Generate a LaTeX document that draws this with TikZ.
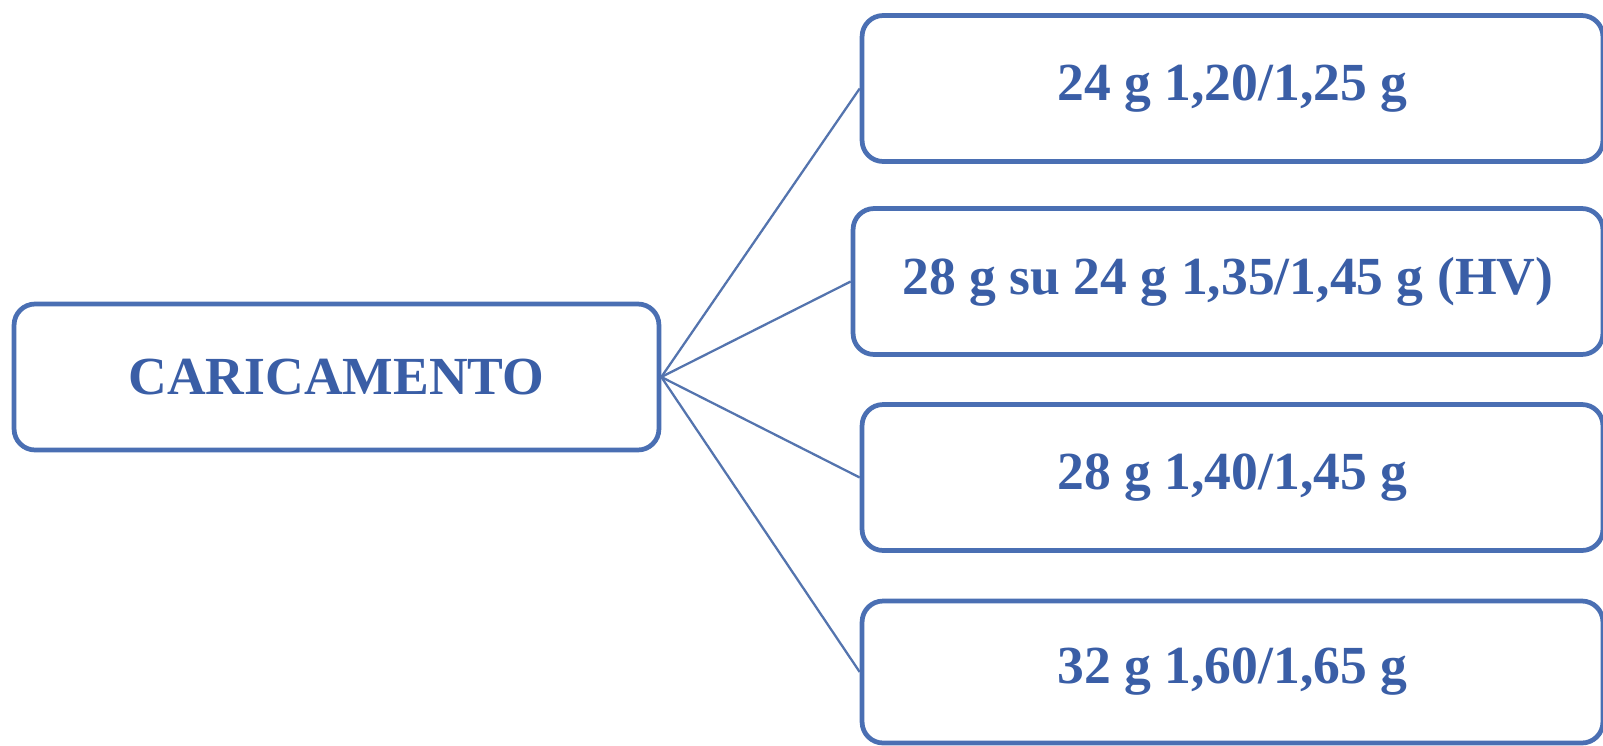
\documentclass[tikz,border=0pt]{standalone}
\usepackage{fontspec}
\setmainfont{Liberation Serif}
\usepackage{tikz}
\usetikzlibrary{positioning}

\definecolor{boxblue}{HTML}{4A6FB3}
\definecolor{textblue}{HTML}{3A5EA6}
\definecolor{lineblue}{HTML}{5474AE}

\tikzset{
  loadbox/.style={draw=boxblue, line width=2.7pt, rounded corners=0.42cm,
    fill=white, text=textblue, font=\fontsize{30.5}{35}\selectfont\bfseries,
    minimum height=2.92cm, inner sep=0pt},
  fanline/.style={draw=lineblue, line width=1.3pt}
}

\begin{document}
\begin{tikzpicture}[x=0.02cm, y=-0.02cm]

    % Frame of the page
    \useasboundingbox (0,0) rectangle (1603,745);

    % Main box
    \node[loadbox, minimum width=12.9cm] (carica) at (336.5,377) {CARICAMENTO};

    % The four charges
    \node[loadbox, minimum width=14.82cm] (c24) at (1232.5,88.5) {24 g 1,20/1,25 g};
    \node[loadbox, minimum width=15.0cm] (c28hv) at (1228,281.5) {28 g su 24 g 1,35/1,45 g (HV)};
    \node[loadbox, minimum width=14.82cm] (c28) at (1232.5,477.5) {28 g 1,40/1,45 g};
    \node[loadbox, minimum width=14.82cm, minimum height=2.84cm] (c32) at (1232.5,672) {32 g 1,60/1,65 g};

    % Connectors
    \foreach \n in {c24,c28hv,c28,c32}
        \draw[fanline] (carica.east) -- (\n.west);
\end{tikzpicture}
\end{document}
